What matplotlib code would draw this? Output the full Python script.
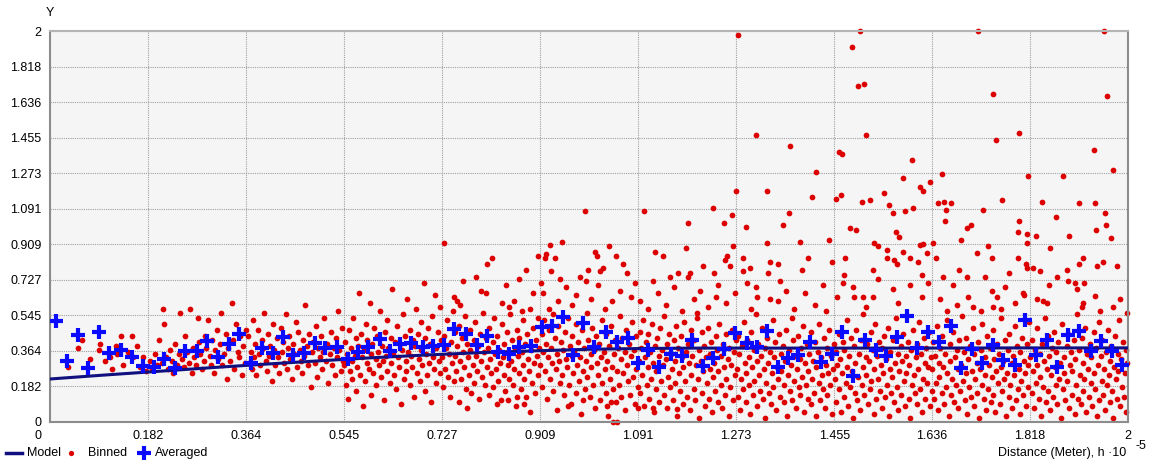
import numpy as np
import matplotlib
matplotlib.use("Agg")
import matplotlib.pyplot as plt
from matplotlib.lines import Line2D
from matplotlib.transforms import ScaledTranslation

plt.rcParams['font.family'] = ['Liberation Sans', 'DejaVu Sans']

# axis ticks (lag distance and semivariance share the same 0..2 scale)
tick_vals = [0, 0.182, 0.364, 0.545, 0.727, 0.909, 1.091, 1.273, 1.455, 1.636, 1.818, 2]
tick_labels = ['0', '0.182', '0.364', '0.545', '0.727', '0.909', '1.091', '1.273',
               '1.455', '1.636', '1.818', '2']

# fitted model curve
model_x = [0, 0.1, 0.2, 0.3, 0.4, 0.5, 0.6, 0.7, 0.8, 0.9, 1.0, 1.1, 1.2, 1.4, 1.6, 1.8, 2.0]
model_y = [0.220, 0.240, 0.259, 0.278, 0.296, 0.313, 0.329, 0.343, 0.355, 0.364, 0.372,
           0.376, 0.378, 0.378, 0.378, 0.379, 0.379]

# averaged semivariance per lag
avg_x = [0.011, 0.032, 0.052, 0.071, 0.091, 0.109, 0.132, 0.152, 0.173, 0.193, 0.212, 0.232,
         0.250, 0.273, 0.291, 0.312, 0.332, 0.351, 0.373, 0.393, 0.414, 0.432, 0.451, 0.471,
         0.492, 0.510, 0.532, 0.553, 0.571, 0.590, 0.612, 0.631, 0.649, 0.670, 0.692, 0.711,
         0.731, 0.750, 0.772, 0.792, 0.811, 0.831, 0.852, 0.870, 0.892, 0.913, 0.931, 0.952,
         0.970, 0.989, 1.009, 1.032, 1.052, 1.072, 1.091, 1.109, 1.130, 1.152, 1.173, 1.191,
         1.212, 1.230, 1.250, 1.271, 1.293, 1.312, 1.330, 1.351, 1.369, 1.388, 1.410, 1.430,
         1.451, 1.469, 1.490, 1.512, 1.532, 1.551, 1.571, 1.590, 1.609, 1.629, 1.649, 1.672,
         1.690, 1.711, 1.729, 1.750, 1.768, 1.790, 1.809, 1.829, 1.850, 1.868, 1.889, 1.909,
         1.931, 1.950, 1.970, 1.989]
avg_y = [0.517, 0.312, 0.445, 0.276, 0.460, 0.353, 0.368, 0.332, 0.286, 0.281, 0.322, 0.276,
         0.363, 0.363, 0.414, 0.332, 0.399, 0.450, 0.302, 0.379, 0.353, 0.435, 0.343, 0.353,
         0.404, 0.379, 0.384, 0.322, 0.358, 0.384, 0.425, 0.363, 0.399, 0.404, 0.384, 0.389,
         0.394, 0.476, 0.450, 0.394, 0.440, 0.358, 0.348, 0.384, 0.389, 0.486, 0.491, 0.537,
         0.343, 0.506, 0.384, 0.460, 0.409, 0.430, 0.302, 0.368, 0.281, 0.348, 0.338, 0.419,
         0.286, 0.327, 0.373, 0.455, 0.404, 0.384, 0.465, 0.281, 0.327, 0.343, 0.409, 0.307,
         0.348, 0.460, 0.235, 0.419, 0.368, 0.338, 0.435, 0.542, 0.379, 0.460, 0.409, 0.491,
         0.276, 0.373, 0.302, 0.394, 0.317, 0.292, 0.522, 0.343, 0.419, 0.281, 0.445, 0.465,
         0.363, 0.414, 0.363, 0.292]

# binned semivariance points, grouped by lag band
binned_0_036 = [
    (0.033, 0.28), (0.052, 0.38), (0.060, 0.42), (0.074, 0.32), (0.091, 0.37), (0.093, 0.40),
    (0.102, 0.31), (0.111, 0.33), (0.115, 0.27), (0.122, 0.39), (0.125, 0.35), (0.132, 0.44),
    (0.135, 0.29), (0.145, 0.36), (0.152, 0.44), (0.154, 0.33), (0.162, 0.39), (0.167, 0.28),
    (0.173, 0.33), (0.178, 0.26),
    (0.186, 0.31), (0.190, 0.27), (0.195, 0.35), (0.199, 0.29), (0.203, 0.42), (0.207, 0.30),
    (0.210, 0.58), (0.212, 0.50), (0.215, 0.33), (0.219, 0.27), (0.222, 0.37), (0.226, 0.31),
    (0.229, 0.25), (0.232, 0.40), (0.236, 0.29), (0.239, 0.35), (0.242, 0.56), (0.245, 0.32),
    (0.248, 0.28), (0.251, 0.44), (0.254, 0.36), (0.257, 0.30), (0.260, 0.58), (0.263, 0.25),
    (0.266, 0.38), (0.268, 0.33), (0.271, 0.29), (0.274, 0.53), (0.277, 0.41), (0.279, 0.35),
    (0.282, 0.27), (0.285, 0.31), (0.288, 0.44), (0.290, 0.38), (0.293, 0.52), (0.296, 0.34),
    (0.299, 0.29), (0.301, 0.42), (0.304, 0.25), (0.307, 0.37), (0.309, 0.47), (0.312, 0.32),
    (0.315, 0.40), (0.318, 0.56), (0.320, 0.29), (0.323, 0.35), (0.326, 0.45), (0.329, 0.22),
    (0.331, 0.38), (0.334, 0.31), (0.337, 0.61), (0.340, 0.42), (0.342, 0.27), (0.345, 0.50),
    (0.348, 0.36), (0.350, 0.33), (0.353, 0.44), (0.356, 0.24), (0.358, 0.39), (0.361, 0.30),
    (0.363, 0.47),
]

binned_036_073 = [
    (0.367, 0.44), (0.369, 0.30), (0.372, 0.36), (0.374, 0.27), (0.376, 0.52), (0.379, 0.33),
    (0.381, 0.40), (0.383, 0.24), (0.386, 0.47), (0.388, 0.35), (0.390, 0.29), (0.393, 0.42),
    (0.395, 0.38), (0.397, 0.56), (0.400, 0.31), (0.402, 0.26), (0.404, 0.45), (0.407, 0.34),
    (0.409, 0.39), (0.411, 0.21), (0.414, 0.50), (0.416, 0.37), (0.418, 0.29), (0.421, 0.43),
    (0.423, 0.33), (0.425, 0.25), (0.428, 0.48), (0.430, 0.36), (0.432, 0.41), (0.435, 0.30),
    (0.437, 0.55), (0.439, 0.27), (0.442, 0.38), (0.444, 0.44), (0.446, 0.32), (0.449, 0.22),
    (0.451, 0.40), (0.453, 0.35), (0.456, 0.51), (0.458, 0.28), (0.460, 0.46), (0.463, 0.37),
    (0.465, 0.31), (0.467, 0.25), (0.470, 0.42), (0.472, 0.34), (0.474, 0.60), (0.477, 0.39),
    (0.479, 0.29), (0.481, 0.45), (0.484, 0.18), (0.486, 0.36), (0.488, 0.41), (0.491, 0.30),
    (0.493, 0.49), (0.495, 0.23), (0.498, 0.38), (0.500, 0.33), (0.502, 0.44), (0.505, 0.27),
    (0.507, 0.36), (0.509, 0.53), (0.512, 0.31), (0.514, 0.40), (0.516, 0.20), (0.519, 0.35),
    (0.521, 0.46), (0.523, 0.29), (0.526, 0.38), (0.528, 0.24), (0.530, 0.43), (0.533, 0.33),
    (0.535, 0.57), (0.537, 0.37), (0.540, 0.26), (0.542, 0.48), (0.544, 0.31),
    (0.546, 0.29), (0.548, 0.41), (0.549, 0.19), (0.551, 0.35), (0.553, 0.12), (0.554, 0.47),
    (0.556, 0.26), (0.558, 0.38), (0.560, 0.31), (0.561, 0.22), (0.563, 0.53), (0.565, 0.34),
    (0.567, 0.43), (0.568, 0.16), (0.570, 0.28), (0.572, 0.39), (0.574, 0.66), (0.575, 0.24),
    (0.577, 0.45), (0.579, 0.33), (0.581, 0.08), (0.582, 0.37), (0.584, 0.21), (0.586, 0.50),
    (0.588, 0.30), (0.589, 0.42), (0.591, 0.27), (0.593, 0.61), (0.595, 0.35), (0.596, 0.14),
    (0.598, 0.40), (0.600, 0.25), (0.602, 0.48), (0.604, 0.32), (0.605, 0.19), (0.607, 0.44),
    (0.609, 0.36), (0.611, 0.29), (0.612, 0.57), (0.614, 0.23), (0.616, 0.39), (0.618, 0.31),
    (0.619, 0.11), (0.621, 0.46), (0.623, 0.34), (0.625, 0.26), (0.626, 0.52), (0.628, 0.38),
    (0.630, 0.20), (0.632, 0.43), (0.633, 0.30), (0.635, 0.68), (0.637, 0.35), (0.639, 0.24),
    (0.640, 0.41), (0.642, 0.17), (0.644, 0.49), (0.646, 0.33), (0.647, 0.28), (0.649, 0.40),
    (0.651, 0.09), (0.653, 0.37), (0.654, 0.55), (0.656, 0.22), (0.658, 0.44), (0.660, 0.31),
    (0.661, 0.26), (0.663, 0.63), (0.665, 0.36), (0.667, 0.19), (0.668, 0.47), (0.670, 0.34),
    (0.672, 0.28), (0.674, 0.42), (0.675, 0.13), (0.677, 0.39), (0.679, 0.58), (0.681, 0.25),
    (0.682, 0.45), (0.684, 0.32), (0.686, 0.21), (0.688, 0.51), (0.689, 0.37), (0.691, 0.29),
    (0.693, 0.71), (0.695, 0.16), (0.696, 0.43), (0.698, 0.35), (0.700, 0.24), (0.702, 0.48),
    (0.703, 0.30), (0.705, 0.40), (0.707, 0.10), (0.709, 0.54), (0.710, 0.33), (0.712, 0.27),
    (0.714, 0.65), (0.716, 0.38), (0.717, 0.20), (0.719, 0.46), (0.721, 0.31), (0.723, 0.59),
    (0.724, 0.25), (0.726, 0.42),
]

binned_073_109 = [
    (0.731, 0.915), (0.820, 0.84), (0.811, 0.81), (0.766, 0.72), (0.790, 0.74), (0.800, 0.67),
    (0.809, 0.66), (0.750, 0.64), (0.839, 0.61), (0.773, 0.07), (0.830, 0.09), (0.850, 0.11),
    (0.890, 0.05), (0.880, 0.09), (0.866, 0.13), (0.756, 0.62), (0.760, 0.60), (0.846, 0.70),
    (0.870, 0.73), (0.884, 0.78), (0.897, 0.66), (0.905, 0.85), (0.860, 0.62), (0.876, 0.57),
    (0.852, 0.59),
    (0.728, 0.33), (0.730, 0.18), (0.731, 0.44), (0.733, 0.27), (0.735, 0.38), (0.737, 0.52),
    (0.738, 0.23), (0.740, 0.35), (0.742, 0.13), (0.744, 0.41), (0.745, 0.30), (0.747, 0.57),
    (0.749, 0.21), (0.751, 0.46), (0.752, 0.34), (0.754, 0.26), (0.756, 0.39), (0.758, 0.10),
    (0.759, 0.49), (0.761, 0.31), (0.763, 0.22), (0.765, 0.43), (0.766, 0.36), (0.768, 0.28),
    (0.770, 0.54), (0.772, 0.17), (0.773, 0.40), (0.775, 0.33), (0.777, 0.24), (0.779, 0.47),
    (0.780, 0.37), (0.782, 0.15), (0.784, 0.29), (0.786, 0.42), (0.787, 0.20), (0.789, 0.51),
    (0.791, 0.34), (0.793, 0.26), (0.794, 0.39), (0.796, 0.12), (0.798, 0.45), (0.800, 0.31),
    (0.801, 0.23), (0.803, 0.56), (0.805, 0.36), (0.807, 0.19), (0.808, 0.43), (0.810, 0.28),
    (0.812, 0.38), (0.814, 0.14), (0.815, 0.48), (0.817, 0.32), (0.819, 0.25), (0.821, 0.41),
    (0.822, 0.18), (0.824, 0.53), (0.826, 0.35), (0.828, 0.27), (0.829, 0.44), (0.831, 0.21),
    (0.833, 0.37), (0.835, 0.30), (0.836, 0.11), (0.838, 0.50), (0.840, 0.33), (0.842, 0.24),
    (0.843, 0.40), (0.845, 0.16), (0.847, 0.46), (0.849, 0.29), (0.850, 0.36), (0.852, 0.22),
    (0.854, 0.55), (0.856, 0.31), (0.857, 0.42), (0.859, 0.19), (0.861, 0.27), (0.863, 0.38),
    (0.864, 0.08), (0.866, 0.47), (0.868, 0.34), (0.870, 0.25), (0.871, 0.43), (0.873, 0.17),
    (0.875, 0.36), (0.877, 0.52), (0.878, 0.29), (0.880, 0.22), (0.882, 0.40), (0.884, 0.13),
    (0.885, 0.45), (0.887, 0.32), (0.889, 0.26), (0.891, 0.58), (0.892, 0.37), (0.894, 0.20),
    (0.896, 0.48), (0.898, 0.30), (0.899, 0.15), (0.901, 0.42), (0.903, 0.34), (0.905, 0.24),
    (0.906, 0.53), (0.908, 0.38),
    (0.993, 1.08), (0.920, 0.86), (0.928, 0.905), (0.950, 0.92), (0.937, 0.84), (0.930, 0.77),
    (0.918, 0.84), (1.011, 0.87), (0.998, 0.78), (1.037, 0.90), (1.015, 0.85), (1.050, 0.85),
    (1.063, 0.81), (1.070, 0.76), (0.983, 0.74), (0.994, 0.72), (1.020, 0.77), (1.026, 0.79),
    (1.017, 0.70), (1.058, 0.67), (0.961, 0.08), (0.989, 0.11), (1.033, 0.08), (1.045, 0.00),
    (1.052, 0.00), (1.040, 0.10), (0.915, 0.66), (0.942, 0.62), (0.958, 0.69), (0.968, 0.60),
    (0.976, 0.65), (1.004, 0.63), (1.030, 0.58), (1.042, 0.62), (1.078, 0.64), (1.085, 0.71),
    (0.925, 0.58), (0.947, 0.73), (0.911, 0.71),
    (0.910, 0.29), (0.912, 0.45), (0.913, 0.18), (0.915, 0.36), (0.917, 0.52), (0.919, 0.26),
    (0.920, 0.40), (0.922, 0.12), (0.924, 0.33), (0.926, 0.47), (0.927, 0.22), (0.929, 0.38),
    (0.931, 0.30), (0.933, 0.55), (0.934, 0.16), (0.936, 0.43), (0.938, 0.27), (0.940, 0.35),
    (0.941, 0.06), (0.943, 0.49), (0.945, 0.31), (0.947, 0.20), (0.948, 0.41), (0.950, 0.24),
    (0.952, 0.37), (0.954, 0.14), (0.955, 0.46), (0.957, 0.32), (0.959, 0.28), (0.961, 0.53),
    (0.962, 0.19), (0.964, 0.39), (0.966, 0.09), (0.968, 0.34), (0.969, 0.44), (0.971, 0.25),
    (0.973, 0.36), (0.975, 0.15), (0.976, 0.50), (0.978, 0.29), (0.980, 0.41), (0.982, 0.21),
    (0.983, 0.33), (0.985, 0.04), (0.987, 0.47), (0.989, 0.26), (0.990, 0.38), (0.992, 0.17),
    (0.994, 0.31), (0.996, 0.56), (0.997, 0.23), (0.999, 0.42), (1.001, 0.13), (1.003, 0.35),
    (1.004, 0.28), (1.006, 0.48), (1.008, 0.19), (1.010, 0.37), (1.011, 0.07), (1.013, 0.44),
    (1.015, 0.30), (1.017, 0.24), (1.018, 0.40), (1.020, 0.11), (1.022, 0.33), (1.024, 0.52),
    (1.025, 0.20), (1.027, 0.36), (1.029, 0.27), (1.031, 0.15), (1.032, 0.45), (1.034, 0.31),
    (1.036, 0.03), (1.038, 0.39), (1.039, 0.22), (1.041, 0.49), (1.043, 0.28), (1.045, 0.17),
    (1.046, 0.35), (1.048, 0.42), (1.050, 0.10), (1.052, 0.26), (1.053, 0.38), (1.055, 0.19),
    (1.057, 0.54), (1.059, 0.32), (1.060, 0.13), (1.062, 0.43), (1.064, 0.25), (1.066, 0.36),
    (1.067, 0.06), (1.069, 0.47), (1.071, 0.29), (1.073, 0.21), (1.074, 0.40), (1.076, 0.14),
    (1.078, 0.34), (1.080, 0.51), (1.081, 0.23), (1.083, 0.37), (1.085, 0.09), (1.087, 0.44),
    (1.088, 0.27), (1.090, 0.18),
]

binned_109_145 = [
    (1.102, 1.08), (1.122, 0.87), (1.137, 0.85), (1.150, 0.74), (1.165, 0.76), (1.180, 0.89),
    (1.184, 0.74), (1.184, 1.02), (1.230, 1.095), (1.265, 1.06), (1.250, 1.02), (1.267, 0.90),
    (1.256, 0.85), (1.252, 0.83), (1.262, 0.80), (1.212, 0.80), (1.187, 0.76), (1.232, 0.76),
    (1.206, 0.67), (1.091, 0.07), (1.119, 0.07), (1.163, 0.066),
    (1.095, 0.62), (1.110, 0.58), (1.128, 0.66), (1.143, 0.60), (1.158, 0.69), (1.172, 0.57),
    (1.195, 0.63), (1.220, 0.59), (1.240, 0.70), (1.255, 0.61), (1.270, 0.66), (1.118, 0.72),
    (1.200, 0.56), (1.236, 0.64),
    (1.092, 0.31), (1.094, 0.46), (1.095, 0.15), (1.097, 0.38), (1.099, 0.24), (1.100, 0.52),
    (1.102, 0.08), (1.104, 0.33), (1.105, 0.41), (1.107, 0.19), (1.109, 0.28), (1.110, 0.45),
    (1.112, 0.12), (1.114, 0.36), (1.115, 0.22), (1.117, 0.50), (1.119, 0.30), (1.120, 0.05),
    (1.122, 0.39), (1.124, 0.17), (1.125, 0.26), (1.127, 0.43), (1.129, 0.34), (1.130, 0.10),
    (1.132, 0.48), (1.134, 0.21), (1.135, 0.37), (1.137, 0.29), (1.139, 0.14), (1.140, 0.54),
    (1.142, 0.32), (1.144, 0.07), (1.145, 0.40), (1.147, 0.23), (1.149, 0.45), (1.150, 0.18),
    (1.152, 0.35), (1.154, 0.27), (1.155, 0.11), (1.157, 0.42), (1.159, 0.31), (1.160, 0.20),
    (1.162, 0.49), (1.164, 0.03), (1.165, 0.38), (1.167, 0.25), (1.169, 0.16), (1.170, 0.44),
    (1.172, 0.33), (1.174, 0.09), (1.175, 0.28), (1.177, 0.51), (1.179, 0.21), (1.180, 0.36),
    (1.182, 0.13), (1.184, 0.40), (1.185, 0.30), (1.187, 0.06), (1.189, 0.47), (1.190, 0.24),
    (1.192, 0.34), (1.194, 0.17), (1.195, 0.42), (1.197, 0.11), (1.199, 0.29), (1.200, 0.53),
    (1.202, 0.22), (1.204, 0.37), (1.205, 0.02), (1.207, 0.31), (1.209, 0.46), (1.210, 0.15),
    (1.212, 0.26), (1.214, 0.39), (1.215, 0.08), (1.217, 0.33), (1.219, 0.20), (1.220, 0.48),
    (1.222, 0.12), (1.224, 0.35), (1.225, 0.27), (1.227, 0.41), (1.229, 0.05), (1.230, 0.23),
    (1.232, 0.30), (1.234, 0.16), (1.235, 0.44), (1.237, 0.37), (1.239, 0.10), (1.240, 0.26),
    (1.242, 0.50), (1.244, 0.19), (1.245, 0.34), (1.247, 0.07), (1.249, 0.40), (1.250, 0.28),
    (1.252, 0.14), (1.254, 0.45), (1.255, 0.22), (1.257, 0.32), (1.259, 0.03), (1.260, 0.38),
    (1.262, 0.18), (1.264, 0.29), (1.265, 0.47), (1.267, 0.11), (1.269, 0.36), (1.270, 0.24),
    (1.272, 0.42),
    (1.276, 1.98), (1.310, 1.47), (1.373, 1.41), (1.421, 1.28), (1.273, 1.18), (1.330, 1.18),
    (1.414, 1.15), (1.371, 1.07), (1.291, 1.00), (1.360, 1.01), (1.330, 0.915), (1.286, 0.84),
    (1.299, 0.79), (1.286, 0.77), (1.336, 0.82), (1.351, 0.81), (1.332, 0.76), (1.406, 0.84),
    (1.395, 0.78), (1.293, 0.71), (1.310, 0.69), (1.354, 0.72), (1.312, 0.64), (1.336, 0.63),
    (1.351, 0.62), (1.434, 0.70), (1.451, 0.82), (1.380, 0.58), (1.400, 0.66), (1.420, 0.60),
    (1.440, 0.57), (1.300, 0.58), (1.365, 0.67), (1.392, 0.92), (1.445, 0.93),
    (1.274, 0.27), (1.276, 0.13), (1.277, 0.44), (1.279, 0.35), (1.281, 0.06), (1.282, 0.22),
    (1.284, 0.39), (1.286, 0.17), (1.287, 0.51), (1.289, 0.30), (1.291, 0.10), (1.292, 0.25),
    (1.294, 0.42), (1.296, 0.19), (1.297, 0.33), (1.299, 0.04), (1.301, 0.46), (1.302, 0.28),
    (1.304, 0.14), (1.306, 0.37), (1.307, 0.21), (1.309, 0.55), (1.311, 0.31), (1.312, 0.08),
    (1.314, 0.40), (1.316, 0.24), (1.317, 0.16), (1.319, 0.34), (1.321, 0.48), (1.322, 0.12),
    (1.324, 0.27), (1.326, 0.38), (1.327, 0.02), (1.329, 0.20), (1.331, 0.43), (1.332, 0.30),
    (1.334, 0.15), (1.336, 0.36), (1.337, 0.09), (1.339, 0.25), (1.341, 0.52), (1.342, 0.18),
    (1.344, 0.33), (1.346, 0.41), (1.347, 0.06), (1.349, 0.28), (1.351, 0.22), (1.352, 0.45),
    (1.354, 0.13), (1.356, 0.35), (1.357, 0.26), (1.359, 0.39), (1.361, 0.10), (1.362, 0.19),
    (1.364, 0.31), (1.366, 0.47), (1.367, 0.03), (1.369, 0.24), (1.371, 0.37), (1.372, 0.16),
    (1.374, 0.29), (1.376, 0.53), (1.377, 0.11), (1.379, 0.42), (1.381, 0.21), (1.382, 0.34),
    (1.384, 0.07), (1.386, 0.27), (1.387, 0.44), (1.389, 0.18), (1.391, 0.32), (1.392, 0.14),
    (1.394, 0.38), (1.396, 0.23), (1.397, 0.49), (1.399, 0.05), (1.401, 0.30), (1.402, 0.19),
    (1.404, 0.40), (1.406, 0.12), (1.407, 0.26), (1.409, 0.35), (1.411, 0.09), (1.412, 0.46),
    (1.414, 0.22), (1.416, 0.31), (1.417, 0.15), (1.419, 0.41), (1.421, 0.03), (1.422, 0.28),
    (1.424, 0.36), (1.426, 0.20), (1.427, 0.50), (1.429, 0.11), (1.431, 0.33), (1.432, 0.24),
    (1.434, 0.17), (1.436, 0.43), (1.437, 0.07), (1.439, 0.29), (1.441, 0.38), (1.442, 0.14),
    (1.444, 0.25), (1.446, 0.47), (1.447, 0.19), (1.449, 0.34), (1.451, 0.04), (1.452, 0.27),
    (1.454, 0.40),
]

binned_145_182 = [
    (1.503, 2.00), (1.488, 1.92), (1.499, 1.72), (1.510, 1.73), (1.514, 1.47), (1.464, 1.38),
    (1.469, 1.37), (1.599, 1.34), (1.583, 1.25), (1.633, 1.23), (1.614, 1.20), (1.620, 1.18),
    (1.458, 1.14), (1.468, 1.16), (1.506, 1.125), (1.521, 1.135), (1.601, 1.095), (1.586, 1.08),
    (1.557, 1.11), (1.564, 1.07), (1.547, 1.17),
    (1.475, 0.84), (1.473, 0.75), (1.484, 0.99), (1.495, 0.98), (1.529, 0.915), (1.536, 0.90),
    (1.553, 0.88), (1.553, 0.84), (1.527, 0.78), (1.490, 0.69), (1.492, 0.64), (1.460, 0.64),
    (1.508, 0.64), (1.536, 0.73), (1.527, 0.64), (1.514, 0.59), (1.566, 0.83), (1.571, 0.81),
    (1.564, 0.68), (1.573, 0.61), (1.583, 0.87), (1.596, 0.84), (1.570, 0.97), (1.575, 0.945),
    (1.610, 0.82), (1.614, 0.905), (1.620, 0.91), (1.627, 0.865), (1.618, 0.75), (1.629, 0.71),
    (1.618, 0.64), (1.596, 0.70), (1.471, 0.71),
    (1.456, 0.22), (1.458, 0.36), (1.459, 0.10), (1.461, 0.29), (1.463, 0.45), (1.464, 0.17),
    (1.466, 0.32), (1.468, 0.05), (1.469, 0.25), (1.471, 0.41), (1.473, 0.13), (1.474, 0.37),
    (1.476, 0.20), (1.478, 0.52), (1.479, 0.28), (1.481, 0.08), (1.483, 0.34), (1.484, 0.18),
    (1.486, 0.43), (1.488, 0.26), (1.489, 0.02), (1.491, 0.39), (1.493, 0.15), (1.494, 0.30),
    (1.496, 0.47), (1.498, 0.11), (1.499, 0.23), (1.501, 0.35), (1.503, 0.06), (1.504, 0.42),
    (1.506, 0.19), (1.508, 0.28), (1.509, 0.55), (1.511, 0.14), (1.513, 0.33), (1.514, 0.24),
    (1.516, 0.40), (1.518, 0.09), (1.519, 0.31), (1.521, 0.17), (1.523, 0.46), (1.524, 0.21),
    (1.526, 0.37), (1.528, 0.04), (1.529, 0.27), (1.531, 0.50), (1.533, 0.12), (1.534, 0.34),
    (1.536, 0.22), (1.538, 0.41), (1.539, 0.16), (1.541, 0.29), (1.543, 0.07), (1.544, 0.38),
    (1.546, 0.25), (1.548, 0.44), (1.549, 0.13), (1.551, 0.32), (1.553, 0.19), (1.554, 0.48),
    (1.556, 0.03), (1.558, 0.27), (1.559, 0.36), (1.561, 0.15), (1.563, 0.23), (1.564, 0.42),
    (1.566, 0.10), (1.568, 0.30), (1.569, 0.53), (1.571, 0.18), (1.573, 0.35), (1.574, 0.06),
    (1.576, 0.26), (1.578, 0.39), (1.579, 0.14), (1.581, 0.31), (1.583, 0.45), (1.584, 0.21),
    (1.586, 0.08), (1.588, 0.34), (1.589, 0.25), (1.591, 0.41), (1.593, 0.12), (1.594, 0.29),
    (1.596, 0.02), (1.598, 0.37), (1.599, 0.19), (1.601, 0.47), (1.603, 0.24), (1.604, 0.15),
    (1.606, 0.33), (1.608, 0.09), (1.609, 0.40), (1.611, 0.27), (1.613, 0.51), (1.614, 0.17),
    (1.616, 0.35), (1.618, 0.05), (1.619, 0.22), (1.621, 0.43), (1.623, 0.30), (1.624, 0.12),
    (1.626, 0.38), (1.628, 0.20), (1.629, 0.28), (1.631, 0.46), (1.633, 0.08), (1.634, 0.33),
    (1.636, 0.16),
    (1.722, 2.00), (1.750, 1.68), (1.755, 1.44), (1.798, 1.48), (1.655, 1.27), (1.814, 1.26),
    (1.648, 1.12), (1.659, 1.125), (1.672, 1.12), (1.662, 1.084), (1.660, 1.03), (1.701, 0.99),
    (1.709, 1.01), (1.638, 0.915), (1.644, 0.84), (1.657, 0.74), (1.675, 0.70), (1.651, 0.63),
    (1.720, 0.865), (1.740, 0.90), (1.748, 0.84), (1.701, 0.74), (1.735, 0.74), (1.748, 0.67),
    (1.703, 0.64), (1.757, 0.64), (1.750, 0.59), (1.772, 0.69), (1.712, 0.59), (1.798, 1.03),
    (1.796, 0.97), (1.813, 0.96), (1.813, 0.915), (1.796, 0.84), (1.811, 0.81), (1.813, 0.79),
    (1.766, 1.135), (1.731, 1.084), (1.686, 0.78), (1.690, 0.93), (1.780, 0.76), (1.790, 0.61),
    (1.664, 0.57), (1.728, 0.57), (1.683, 0.60), (1.765, 0.58), (1.805, 0.66),
    (1.637, 0.27), (1.639, 0.41), (1.640, 0.12), (1.642, 0.34), (1.644, 0.20), (1.645, 0.49),
    (1.647, 0.06), (1.649, 0.30), (1.650, 0.23), (1.652, 0.38), (1.654, 0.15), (1.655, 0.44),
    (1.657, 0.28), (1.659, 0.09), (1.660, 0.35), (1.662, 0.18), (1.664, 0.52), (1.665, 0.25),
    (1.667, 0.03), (1.669, 0.40), (1.670, 0.31), (1.672, 0.14), (1.674, 0.22), (1.675, 0.46),
    (1.677, 0.10), (1.679, 0.33), (1.680, 0.19), (1.682, 0.37), (1.684, 0.27), (1.685, 0.07),
    (1.687, 0.42), (1.689, 0.16), (1.690, 0.29), (1.692, 0.54), (1.694, 0.21), (1.695, 0.36),
    (1.697, 0.11), (1.699, 0.25), (1.700, 0.43), (1.702, 0.04), (1.704, 0.32), (1.705, 0.18),
    (1.707, 0.39), (1.709, 0.13), (1.710, 0.26), (1.712, 0.48), (1.714, 0.08), (1.715, 0.35),
    (1.717, 0.22), (1.719, 0.30), (1.720, 0.15), (1.722, 0.41), (1.724, 0.02), (1.725, 0.27),
    (1.727, 0.37), (1.729, 0.19), (1.730, 0.50), (1.732, 0.12), (1.734, 0.33), (1.735, 0.24),
    (1.737, 0.06), (1.739, 0.44), (1.740, 0.17), (1.742, 0.29), (1.744, 0.38), (1.745, 0.10),
    (1.747, 0.23), (1.749, 0.47), (1.750, 0.14), (1.752, 0.32), (1.754, 0.05), (1.755, 0.26),
    (1.757, 0.40), (1.759, 0.20), (1.760, 0.35), (1.762, 0.09), (1.764, 0.28), (1.765, 0.53),
    (1.767, 0.16), (1.769, 0.31), (1.770, 0.22), (1.772, 0.42), (1.774, 0.03), (1.775, 0.25),
    (1.777, 0.37), (1.779, 0.13), (1.780, 0.45), (1.782, 0.19), (1.784, 0.30), (1.785, 0.07),
    (1.787, 0.34), (1.789, 0.24), (1.790, 0.49), (1.792, 0.11), (1.794, 0.39), (1.795, 0.17),
    (1.797, 0.27), (1.799, 0.04), (1.800, 0.36), (1.802, 0.21), (1.804, 0.43), (1.805, 0.14),
    (1.807, 0.31), (1.809, 0.25), (1.810, 0.08), (1.812, 0.40), (1.814, 0.18), (1.815, 0.29),
    (1.817, 0.51),
]

binned_182_200 = [
    (1.955, 2.00), (1.961, 1.67), (1.937, 1.39), (1.972, 1.29), (1.879, 1.26), (1.840, 1.125),
    (1.909, 1.12), (1.939, 1.12), (1.866, 1.05), (1.855, 0.89), (1.824, 0.79), (1.837, 0.77),
    (1.807, 0.65), (1.831, 0.63), (1.842, 0.62), (1.850, 0.61), (1.853, 0.70), (1.868, 0.74),
    (1.887, 0.78), (1.890, 0.95), (1.957, 1.07), (1.959, 1.01), (1.941, 0.98), (1.968, 0.94),
    (1.916, 0.84), (1.909, 0.81), (1.942, 0.80), (1.954, 0.82), (1.980, 0.80), (1.889, 0.72),
    (1.902, 0.71), (1.918, 0.71), (1.905, 0.68), (1.939, 0.645), (1.916, 0.61), (1.915, 0.59),
    (1.948, 0.57), (1.972, 0.59), (1.985, 0.63), (1.998, 0.56), (1.829, 0.95),
    (1.819, 0.33), (1.821, 0.15), (1.822, 0.42), (1.824, 0.26), (1.826, 0.07), (1.827, 0.37),
    (1.829, 0.20), (1.831, 0.48), (1.832, 0.29), (1.834, 0.12), (1.836, 0.35), (1.837, 0.23),
    (1.839, 0.03), (1.841, 0.40), (1.842, 0.18), (1.844, 0.31), (1.846, 0.53), (1.847, 0.10),
    (1.849, 0.27), (1.851, 0.44), (1.852, 0.16), (1.854, 0.34), (1.856, 0.06), (1.857, 0.24),
    (1.859, 0.38), (1.861, 0.13), (1.862, 0.46), (1.864, 0.28), (1.866, 0.19), (1.867, 0.36),
    (1.869, 0.09), (1.871, 0.41), (1.872, 0.22), (1.874, 0.30), (1.876, 0.02), (1.877, 0.50),
    (1.879, 0.17), (1.881, 0.33), (1.882, 0.25), (1.884, 0.11), (1.886, 0.39), (1.887, 0.21),
    (1.889, 0.45), (1.891, 0.07), (1.892, 0.29), (1.894, 0.36), (1.896, 0.14), (1.897, 0.26),
    (1.899, 0.42), (1.901, 0.04), (1.902, 0.32), (1.904, 0.19), (1.906, 0.55), (1.907, 0.12),
    (1.909, 0.37), (1.911, 0.24), (1.912, 0.09), (1.914, 0.43), (1.916, 0.16), (1.917, 0.30),
    (1.919, 0.22), (1.921, 0.48), (1.922, 0.05), (1.924, 0.35), (1.926, 0.27), (1.927, 0.13),
    (1.929, 0.40), (1.931, 0.20), (1.932, 0.33), (1.934, 0.08), (1.936, 0.46), (1.937, 0.25),
    (1.939, 0.17), (1.941, 0.38), (1.942, 0.03), (1.944, 0.29), (1.946, 0.51), (1.947, 0.11),
    (1.949, 0.34), (1.951, 0.21), (1.952, 0.42), (1.954, 0.14), (1.956, 0.27), (1.957, 0.06),
    (1.959, 0.36), (1.961, 0.19), (1.962, 0.47), (1.964, 0.24), (1.966, 0.10), (1.967, 0.31),
    (1.969, 0.39), (1.971, 0.16), (1.972, 0.02), (1.974, 0.28), (1.976, 0.44), (1.977, 0.22),
    (1.979, 0.12), (1.981, 0.35), (1.982, 0.26), (1.984, 0.52), (1.986, 0.08), (1.987, 0.32),
    (1.989, 0.18), (1.991, 0.41), (1.992, 0.13), (1.994, 0.25), (1.996, 0.37), (1.997, 0.05),
    (1.999, 0.30),
]

binned = np.array(binned_0_036 + binned_036_073 + binned_073_109
                  + binned_109_145 + binned_145_182 + binned_182_200)

fig = plt.figure(figsize=(11.55, 4.67), dpi=100)
ax = fig.add_axes([50 / 1155, 1 - 422 / 467, 1078 / 1155, 391 / 467])
ax.set_facecolor('#f5f5f5')

ax.scatter(binned[:, 0], binned[:, 1], s=17, color='#dd0000', linewidths=0,
           zorder=2, clip_on=False)
ax.plot(model_x, model_y, color='#101080', lw=2.2, zorder=3)
ax.plot(avg_x, avg_y, linestyle='none', marker='+', markersize=10.5, mew=3.0,
        color='#0a0aff', zorder=4)

ax.set_xlim(0, 2)
ax.set_ylim(0, 2)
ax.set_xticks(tick_vals)
ax.set_xticklabels(tick_labels)
ax.set_yticks(tick_vals)
ax.set_yticklabels(tick_labels)
ax.tick_params(length=0, labelsize=9, pad=6)
ax.grid(True, linestyle=(0, (1, 1)), color='#a0a0a0', lw=0.8)
ax.set_axisbelow(True)
for name, sp in ax.spines.items():
    sp.set_color('#b4b4b4' if name == 'top' else '#8c8c8c')
    sp.set_linewidth(1.5)

# first x label sits left of the origin
first = ax.get_xticklabels()[0]
first.set_transform(first.get_transform() + ScaledTranslation(-0.12, 0, fig.dpi_scale_trans))

fig.text(50 / 1155, 1 - 13 / 467, 'Y', ha='center', va='center', fontsize=9)
fig.text(1126 / 1155, 1 - 453 / 467, 'Distance (Meter), h \u00b710', ha='right',
         va='center', fontsize=9)
fig.text(1135 / 1155, 1 - 446 / 467, '-5', ha='left', va='center', fontsize=9)

# legend row along the bottom
ly = 1 - 453 / 467
fig.add_artist(Line2D([6 / 1155, 22 / 1155], [ly, ly], color='#101080', lw=2.5))
fig.text(27 / 1155, ly, 'Model', va='center', fontsize=9)
fig.add_artist(Line2D([71 / 1155], [ly], marker='o', markersize=3.8, color='#dd0000',
                      mew=0, linestyle='none'))
fig.text(88 / 1155, ly, 'Binned', va='center', fontsize=9)
fig.add_artist(Line2D([144 / 1155], [ly], marker='+', markersize=10.5, mew=3.0,
                      color='#0a0aff', linestyle='none'))
fig.text(155 / 1155, ly, 'Averaged', va='center', fontsize=9)

fig.savefig('out.png', dpi=100)
